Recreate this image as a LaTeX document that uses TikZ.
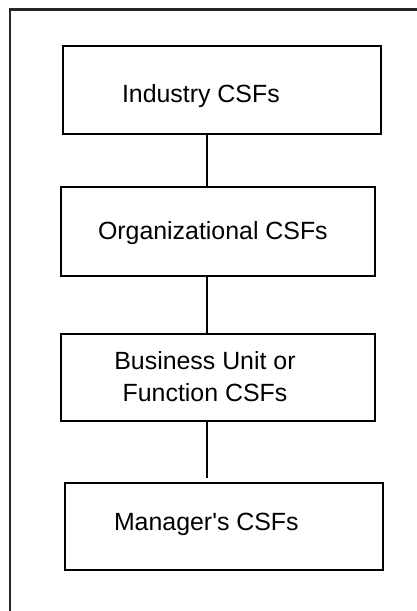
\documentclass[tikz,border=0pt]{standalone}
\usepackage{fontspec}
\newfontfamily\lsans{Liberation Sans}
\begin{document}
\begin{tikzpicture}[x=1pt,y=1pt,
  csfbox/.style={draw=black,line width=2.6pt,rectangle,inner sep=0pt,outer sep=0pt},
  csftext/.style={inner sep=0pt,outer sep=0pt,font=\lsans\fontsize{24.9}{32}\selectfont},
  link/.style={draw=black,line width=2pt}]
\useasboundingbox (0,0) rectangle (417,-611);
% outer frame (only top and left edges visible)
\draw[line width=2.4pt,black!85] (417,-9.5) -- (10,-9.5) -- (10,-611);
% boxes
\node[csfbox,minimum width=318pt,minimum height=88pt] (b1) at (222,-90) {};
\node[csfbox,minimum width=314pt,minimum height=89pt] (b2) at (218,-231.5) {};
\node[csfbox,minimum width=314pt,minimum height=87pt] (b3) at (218,-377.5) {};
\node[csfbox,minimum width=318pt,minimum height=87pt] (b4) at (224,-526.5) {};
% texts
\node[csftext,anchor=base west] (t1) at (122,-102) {Industry CSFs};
\node[csftext,anchor=base west] (t2) at (98,-239) {Organizational CSFs};
\node[csftext,anchor=base,align=center] (t3) at (205,-401) {Business Unit or\\Function CSFs};
\node[csftext,anchor=base west] (t4) at (114,-530) {Manager{\char"27}s CSFs};
% connectors
\coordinate (cx) at (207,0);
\draw[link] (b1.south -| cx) -- (b2.north -| cx);
\draw[link] (b2.south -| cx) -- (b3.north -| cx);
\coordinate (e4) at ([yshift=5pt]b4.north -| cx);
\draw[link] (b3.south -| cx) -- (e4);
\end{tikzpicture}
\end{document}
